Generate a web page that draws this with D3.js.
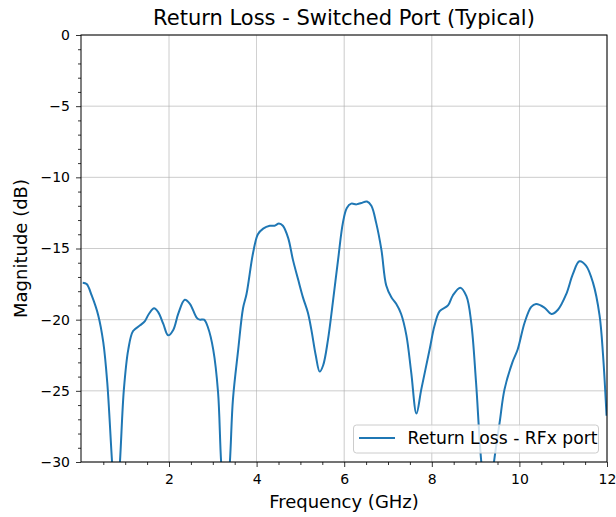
<!DOCTYPE html>
<head>
<meta charset="utf-8">
<title>Return Loss - Switched Port</title>
<style>
html, body { margin:0; padding:0; background:#fff; }
svg { display:block; font-family: "DejaVu Sans", sans-serif; }
.grid line { stroke:#b0b0b0; stroke-width:0.8; opacity:0.8; }
.axis path, .axis line { stroke:#000; }
</style>
</head>
<body>
<svg id="stage" width="616" height="517"></svg>
<script src="https://d3js.org/d3.v7.min.js"></script>
<script>
// frequency (GHz) and return loss (dB)
var freq = [0.03,0.12,0.235,0.385,0.50,0.59,0.70,0.79,0.88,0.97,1.07,1.18,1.34,1.45,1.54,1.66,1.75,1.87,1.98,2.10,2.21,2.36,2.48,2.63,2.70,2.80,2.89,3.01,3.12,3.19,3.29,3.39,3.46,3.58,3.69,3.77,3.92,4.03,4.15,4.30,4.41,4.51,4.60,4.72,4.83,4.95,5.06,5.17,5.25,5.35,5.44,5.52,5.63,5.74,5.86,5.97,6.06,6.16,6.28,6.39,6.52,6.62,6.73,6.85,6.96,7.08,7.19,7.30,7.42,7.53,7.65,7.76,7.95,8.06,8.18,8.37,8.48,8.65,8.79,8.90,9.01,9.13,9.28,9.42,9.55,9.66,9.84,9.96,10.12,10.27,10.38,10.57,10.73,10.88,11.07,11.22,11.37,11.52,11.68,11.83,11.91,11.99];
var rl = [-17.4,-17.5,-18.3,-19.7,-21.6,-24.4,-30,-34,-30,-24.9,-22.1,-20.8,-20.4,-20.1,-19.6,-19.2,-19.45,-20.3,-21.1,-20.7,-19.6,-18.6,-18.9,-19.85,-20.0,-20.0,-20.55,-22.1,-25.1,-30,-34,-30,-25.6,-22.1,-19.2,-18.2,-15.3,-14.0,-13.6,-13.4,-13.4,-13.25,-13.4,-14.25,-15.8,-17.2,-18.45,-19.5,-20.7,-22.5,-23.65,-23.2,-21.4,-18.8,-15.8,-13.2,-12.15,-11.85,-11.9,-11.8,-11.7,-12.0,-13.2,-15.1,-17.6,-18.45,-18.9,-19.6,-21.1,-23.7,-26.6,-24.9,-22.1,-20.45,-19.4,-19.0,-18.3,-17.75,-18.35,-20.2,-24.4,-30,-34,-30,-27.2,-24.9,-23.0,-22.1,-20.2,-19.1,-18.9,-19.15,-19.6,-19.3,-18.2,-16.8,-15.9,-16.2,-17.4,-19.7,-22.5,-26.75];
var xTicks = [2,4,6,8,10,12];
var yTicks = [0,-5,-10,-15,-20,-25,-30];

var svg = d3.select("#stage");
var m = {left:81, right:607, top:35, bottom:462};

var x = d3.scaleLinear().domain([0,12]).range([81.4, 607]);
var y = d3.scaleLinear().domain([-30,0]).range([m.bottom, m.top]);

// grid
var g = svg.append("g").attr("class","grid");
g.selectAll(".gx").data(xTicks).enter().append("line")
  .attr("x1", d=>x(d)).attr("x2", d=>x(d)).attr("y1", m.top).attr("y2", m.bottom);
g.selectAll(".gy").data(yTicks).enter().append("line")
  .attr("x1", m.left).attr("x2", m.right).attr("y1", d=>y(d)).attr("y2", d=>y(d));

// axes
var fmt = d => String(d).replace("-", "\u2212");
var xa = svg.append("g").attr("class","axis").attr("transform","translate(0,"+m.bottom+")")
  .call(d3.axisBottom(x).tickValues(xTicks).tickFormat(fmt).tickSize(5).tickPadding(7));
xa.select(".domain").remove();
svg.append("g").attr("class","axis").attr("transform","translate(0,"+m.bottom+")")
  .call(d3.axisBottom(x).tickValues(d3.range(0.5,12,0.5).filter(v=>v%2!==0)).tickFormat("").tickSize(3))
  .select(".domain").remove();
var ya = svg.append("g").attr("class","axis").attr("transform","translate("+m.left+",0)")
  .call(d3.axisLeft(y).tickValues(yTicks).tickFormat(fmt).tickSize(5).tickPadding(6));
ya.select(".domain").remove();
svg.append("g").attr("class","axis").attr("transform","translate("+m.left+",0)")
  .call(d3.axisLeft(y).tickValues(d3.range(-29,0,1).filter(v=>v%5!==0)).tickFormat("").tickSize(3))
  .select(".domain").remove();
svg.selectAll(".axis text")
  .style("font-family", "'DejaVu Sans', sans-serif").style("font-size", "14px").style("fill", "#000");
svg.selectAll(".axis line").attr("stroke-width",0.8);

// clip + line
svg.append("clipPath").attr("id","clip").append("rect")
  .attr("x", m.left).attr("y", m.top).attr("width", m.right-m.left).attr("height", m.bottom-m.top);
var line = d3.line().x((d,i)=>x(freq[i])).y(d=>y(d)).curve(d3.curveCatmullRom.alpha(0.5));
svg.append("path").datum(rl).attr("clip-path","url(#clip)")
  .attr("fill","none").attr("stroke","#1f77b4").attr("stroke-width",2).attr("d", line);

// frame
svg.append("rect").attr("x", m.left).attr("y", m.top).attr("width", m.right-m.left).attr("height", m.bottom-m.top)
  .attr("fill","none").attr("stroke","#000").attr("stroke-width",1);

// legend
var lg = svg.append("g");
lg.append("rect").attr("x",353.5).attr("y",425).attr("width",245).attr("height",28).attr("rx",3)
  .attr("fill","#fff").attr("fill-opacity",0.8).attr("stroke","#ccc");
lg.append("line").attr("x1",359).attr("x2",395).attr("y1",438).attr("y2",438).attr("stroke","#1f77b4").attr("stroke-width",2);
lg.append("text").attr("x",407.5).attr("y",443.5).attr("font-size",17.2).text("Return Loss - RFx port");

// titles
svg.append("text").attr("x",(m.left+m.right)/2).attr("y",25).attr("text-anchor","middle").attr("font-size",21)
  .text("Return Loss - Switched Port (Typical)");
svg.append("text").attr("x",(m.left+m.right)/2).attr("y",508).attr("text-anchor","middle").attr("font-size",18)
  .text("Frequency (GHz)");
svg.append("text").attr("transform","translate(27,"+((m.top+m.bottom)/2)+") rotate(-90)").attr("text-anchor","middle").attr("font-size",18)
  .text("Magnitude (dB)");
</script>
